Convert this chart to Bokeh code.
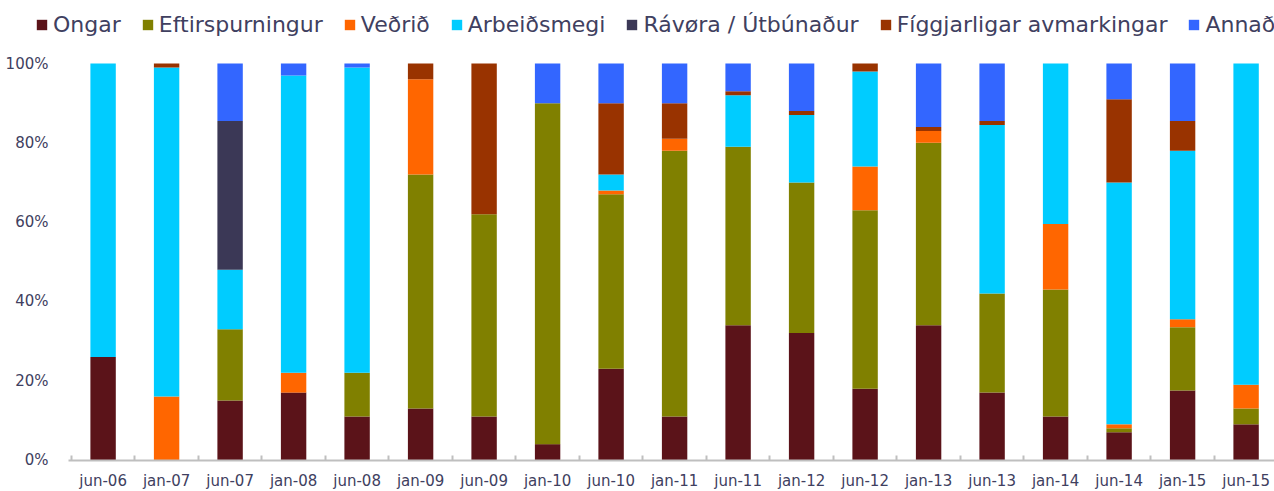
from bokeh.plotting import figure
from bokeh.models import ColumnDataSource, FixedTicker, NumeralTickFormatter, Range1d
from bokeh.embed import file_html
from bokeh.resources import INLINE

categories = ["jun-06", "jan-07", "jun-07", "jan-08", "jun-08", "jan-09", "jun-09",
              "jan-10", "jun-10", "jan-11", "jun-11", "jan-12", "jun-12", "jan-13",
              "jun-13", "jan-14", "jun-14", "jan-15", "jun-15"]

ongar = [26, 0, 15, 17, 11, 13, 11, 4, 23, 11, 34, 32, 18, 34, 17, 11, 7, 17.5, 9]
eftirspurningur = [0, 0, 18, 0, 11, 59, 51, 86, 44, 67, 45, 38, 45, 46, 25, 32, 1, 16, 4]
vedrid = [0, 16, 0, 5, 0, 24, 0, 0, 1, 3, 0, 0, 11, 3, 0, 16.5, 1, 2, 6]
arbeidsmegi = [74, 83, 15, 75, 77, 0, 0, 0, 4, 0, 13, 17, 24, 0, 42.5, 40.5, 61, 42.5, 81]
ravora = [0, 0, 37.5, 0, 0, 0, 0, 0, 0, 0, 0, 0, 0, 0, 0, 0, 0, 0, 0]
figgjarligar = [0, 1, 0, 0, 0, 4, 38, 0, 18, 9, 1, 1, 2, 1, 1, 0, 21, 7.5, 0]
annad = [0, 0, 14.5, 3, 1, 0, 0, 10, 10, 10, 7, 12, 0, 16, 14.5, 0, 9, 14.5, 0]

series_names = ["Ongar", "Eftirspurningur", "Veðrið", "Arbeiðsmegi",
                "Rávøra / Útbúnaður", "Fíggjarligar avmarkingar", "Annað"]
series_values = [ongar, eftirspurningur, vedrid, arbeidsmegi, ravora, figgjarligar, annad]
colors = ["#5b1319", "#808000", "#ff6600", "#00ccff", "#3b3856", "#993300", "#3366ff"]

keys = ["s%d" % i for i in range(len(series_names))]
data = {"x": list(range(len(categories)))}
for k, vals in zip(keys, series_values):
    data[k] = [v / 100.0 for v in vals]
source = ColumnDataSource(data)

TEXT = "#404060"
FONT = "DejaVu Sans"

W, H = 1274, 491
# pixel layout (page coordinates)
cat0_px, cat_step = 102.6, 63.5      # centre of first category, spacing
zero_px, unit_px = 459.5, 396.5      # y pixel of 0 %, pixels per 100 %
axis_left_px = 68

x_start = -cat0_px / cat_step
x_end = (W - cat0_px) / cat_step
y_start = -(H - zero_px) / unit_px
y_end = zero_px / unit_px
axis_left = (axis_left_px - cat0_px) / cat_step

p = figure(width=W, height=H, output_backend="svg", toolbar_location=None,
           x_range=Range1d(x_start, x_end), y_range=Range1d(y_start, y_end),
           min_border_left=0, min_border_right=0, min_border_top=0,
           min_border_bottom=0)
p.outline_line_color = None
p.xgrid.visible = False
p.ygrid.visible = False

renderers = p.vbar_stack(keys, x="x", width=0.4, color=colors, source=source,
                         line_color=None, legend_label=series_names)

# x axis
p.xaxis.fixed_location = 0
p.xaxis.bounds = (axis_left, len(categories) - 0.4)
p.xaxis.ticker = FixedTicker(ticks=list(range(len(categories))),
                             minor_ticks=[i - 0.5 for i in range(len(categories) + 1)])
p.xaxis.major_label_overrides = {i: c for i, c in enumerate(categories)}
p.xaxis.major_tick_in = 0
p.xaxis.major_tick_out = 0
p.xaxis.minor_tick_in = 5
p.xaxis.minor_tick_out = 0
p.xaxis.minor_tick_line_color = "#bfbfbf"
p.xaxis.minor_tick_line_width = 2
p.xaxis.axis_line_color = "#bfbfbf"
p.xaxis.axis_line_width = 2
p.xaxis.major_label_text_font = FONT
p.xaxis.major_label_text_font_size = "15px"
p.xaxis.major_label_text_color = TEXT
p.xaxis.major_label_standoff = 12

# y axis
p.yaxis.fixed_location = axis_left
p.yaxis.ticker = FixedTicker(ticks=[0, 0.2, 0.4, 0.6, 0.8, 1.0], minor_ticks=[])
p.yaxis.formatter = NumeralTickFormatter(format="0%")
p.yaxis.axis_line_color = None
p.yaxis.major_tick_line_color = None
p.yaxis.minor_tick_line_color = None
p.yaxis.major_label_text_font = FONT
p.yaxis.major_label_text_font_size = "15px"
p.yaxis.major_label_text_color = TEXT
p.yaxis.major_label_standoff = 14

# legend
lg = p.legend[0]
lg.orientation = "horizontal"
lg.location = (35, H - 37)
lg.margin = 0
lg.padding = 0
lg.spacing = 20
lg.label_standoff = 5
lg.glyph_width = 13
lg.glyph_height = 13
lg.border_line_color = None
lg.background_fill_alpha = 0
lg.label_text_font = FONT
lg.label_text_font_size = "22px"
lg.label_text_color = TEXT

open("out.html", "w").write(file_html(p, INLINE))
